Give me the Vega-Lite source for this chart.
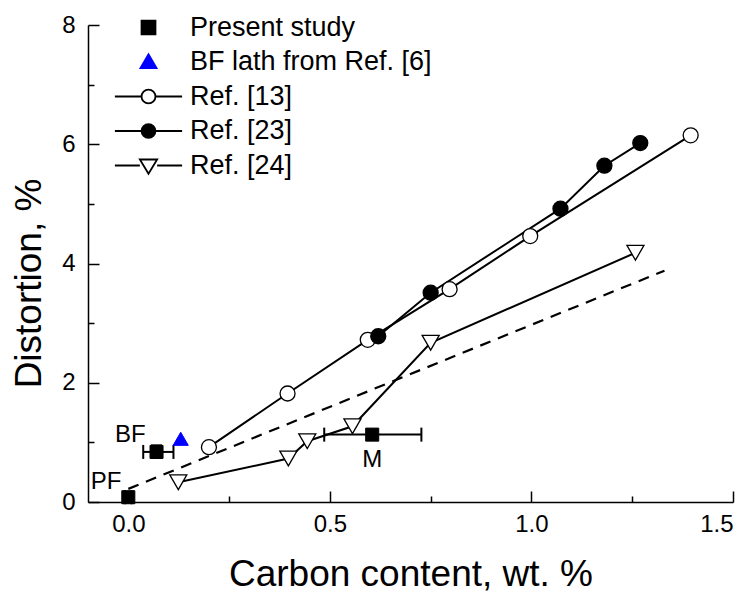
{
  "$schema": "https://vega.github.io/schema/vega-lite/v6.json",
  "width": 645,
  "height": 477,
  "autosize": {"type": "none"},
  "padding": {"left": 88, "top": 25, "right": 18, "bottom": 93},
  "config": {
    "view": {"stroke": null},
    "font": "Liberation Sans",
    "axis": {
      "domainColor": "black",
      "domainWidth": 1.5,
      "tickColor": "black",
      "tickWidth": 1.5,
      "grid": false,
      "labelColor": "black",
      "labelFont": "Liberation Sans",
      "labelFontSize": 24,
      "titleFont": "Liberation Sans",
      "titleFontSize": 37,
      "titleFontWeight": "normal",
      "titleColor": "black"
    }
  },
  "datasets": {
    "pts": [
      {"series": "Present study", "x": 0.0, "y": 0.08},
      {"series": "Present study", "x": 0.07, "y": 0.84},
      {"series": "Present study", "x": 0.605, "y": 1.13},
      {"series": "BF lath from Ref. [6]", "x": 0.13, "y": 1.06},
      {"series": "Ref. [13]", "x": 0.2, "y": 0.92},
      {"series": "Ref. [13]", "x": 0.395, "y": 1.82},
      {"series": "Ref. [13]", "x": 0.594, "y": 2.72},
      {"series": "Ref. [13]", "x": 0.797, "y": 3.57},
      {"series": "Ref. [13]", "x": 0.997, "y": 4.46},
      {"series": "Ref. [13]", "x": 1.395, "y": 6.15},
      {"series": "Ref. [23]", "x": 0.62, "y": 2.78},
      {"series": "Ref. [23]", "x": 0.75, "y": 3.51},
      {"series": "Ref. [23]", "x": 1.072, "y": 4.92},
      {"series": "Ref. [23]", "x": 1.181, "y": 5.64},
      {"series": "Ref. [23]", "x": 1.27, "y": 6.02},
      {"series": "Ref. [24]", "x": 0.124, "y": 0.33},
      {"series": "Ref. [24]", "x": 0.397, "y": 0.73},
      {"series": "Ref. [24]", "x": 0.444, "y": 1.02},
      {"series": "Ref. [24]", "x": 0.556, "y": 1.27},
      {"series": "Ref. [24]", "x": 0.75, "y": 2.67},
      {"series": "Ref. [24]", "x": 1.258, "y": 4.18}
    ],
    "err": [
      {"x": 0.0, "y": 0.08, "xmin": -0.008, "xmax": 0.008, "ymin": 0.0, "ymax": 0.17},
      {"x": 0.07, "y": 0.84, "xmin": 0.037, "xmax": 0.112, "ymin": 0.74, "ymax": 0.95},
      {"x": 0.605, "y": 1.13, "xmin": 0.486, "xmax": 0.727, "ymin": 1.13, "ymax": 1.13}
    ],
    "fit": [
      {"x": 0.0, "y": 0.22},
      {"x": 1.33, "y": 3.88}
    ],
    "labels": [
      {"x": 0.005, "y": 1.12, "text": "BF"},
      {"x": -0.055, "y": 0.34, "text": "PF"},
      {"x": 0.605, "y": 0.7, "text": "M"}
    ]
  },
  "layer": [
    {
      "data": {"name": "fit"},
      "mark": {"type": "line", "color": "black", "strokeWidth": 2.2, "strokeDash": [11, 8]},
      "encoding": {
        "x": {
          "field": "x", "type": "quantitative",
          "scale": {"domain": [-0.1, 1.5], "nice": false, "zero": false},
          "axis": {
            "title": "Carbon content, wt. %",
            "orient": "bottom",
            "values": [0, 0.5, 1, 1.5],
            "format": ".1f",
            "tickSize": -11,
            "labelPadding": 21,
            "titlePadding": 20
          }
        },
        "y": {
          "field": "y", "type": "quantitative",
          "scale": {"domain": [0, 8], "nice": false, "zero": false},
          "axis": {
            "title": "Distortion, %",
            "orient": "left",
            "values": [0, 2, 4, 6, 8],
            "format": "d",
            "tickSize": -11,
            "labelPadding": 24,
            "titlePadding": 13,
            "titleY": 258
          }
        }
      }
    },
    {
      "data": {"name": "pts"},
      "transform": [{"filter": "indexof(datum.series, 'Ref.') === 0"}],
      "mark": {"type": "line", "color": "black", "strokeWidth": 2},
      "encoding": {
        "x": {
          "field": "x", "type": "quantitative",
          "axis": {"orient": "bottom", "values": [0.25, 0.75, 1.25], "tickSize": -6, "labels": false, "domain": false, "title": null}
        },
        "y": {
          "field": "y", "type": "quantitative",
          "axis": {"orient": "left", "values": [1, 3, 5, 7], "tickSize": -6, "labels": false, "domain": false, "title": null}
        },
        "detail": {"field": "series"}
      }
    },
    {
      "data": {"name": "err"},
      "mark": {"type": "rule", "color": "black", "strokeWidth": 2},
      "encoding": {
        "x": {"field": "xmin", "type": "quantitative", "axis": null},
        "x2": {"field": "xmax"},
        "y": {"field": "y", "type": "quantitative", "axis": null}
      }
    },
    {
      "data": {"name": "err"},
      "mark": {"type": "rule", "color": "black", "strokeWidth": 2},
      "encoding": {
        "x": {"field": "x", "type": "quantitative", "axis": null},
        "y": {"field": "ymin", "type": "quantitative", "axis": null},
        "y2": {"field": "ymax"}
      }
    },
    {
      "data": {"name": "err"},
      "mark": {"type": "tick", "orient": "vertical", "size": 14, "thickness": 2, "color": "black", "opacity": 1},
      "encoding": {
        "x": {"field": "xmin", "type": "quantitative", "axis": null},
        "y": {"field": "y", "type": "quantitative", "axis": null}
      }
    },
    {
      "data": {"name": "err"},
      "mark": {"type": "tick", "orient": "vertical", "size": 14, "thickness": 2, "color": "black", "opacity": 1},
      "encoding": {
        "x": {"field": "xmax", "type": "quantitative", "axis": null},
        "y": {"field": "y", "type": "quantitative", "axis": null}
      }
    },
    {
      "data": {"name": "err"},
      "mark": {"type": "tick", "orient": "horizontal", "size": 11, "thickness": 2, "color": "black", "opacity": 1},
      "encoding": {
        "x": {"field": "x", "type": "quantitative", "axis": null},
        "y": {"field": "ymin", "type": "quantitative", "axis": null}
      }
    },
    {
      "data": {"name": "err"},
      "mark": {"type": "tick", "orient": "horizontal", "size": 11, "thickness": 2, "color": "black", "opacity": 1},
      "encoding": {
        "x": {"field": "x", "type": "quantitative", "axis": null},
        "y": {"field": "ymax", "type": "quantitative", "axis": null}
      }
    },
    {
      "data": {"name": "pts"},
      "transform": [{"filter": "datum.series === 'Present study'"}],
      "mark": {"type": "point", "shape": "square", "size": 170, "fill": "black", "stroke": "black", "strokeWidth": 1, "opacity": 1},
      "encoding": {
        "x": {"field": "x", "type": "quantitative", "axis": null},
        "y": {"field": "y", "type": "quantitative", "axis": null}
      }
    },
    {
      "data": {"name": "pts"},
      "transform": [{"filter": "datum.series === 'BF lath from Ref. [6]'"}],
      "mark": {"type": "point", "shape": "triangle-up", "size": 230, "fill": "#0000ff", "stroke": "#0000ff", "strokeWidth": 1, "opacity": 1},
      "encoding": {
        "x": {"field": "x", "type": "quantitative", "axis": null},
        "y": {"field": "y", "type": "quantitative", "axis": null}
      }
    },
    {
      "data": {"name": "pts"},
      "transform": [{"filter": "datum.series === 'Ref. [13]'"}],
      "mark": {"type": "point", "shape": "circle", "size": 225, "fill": "white", "stroke": "black", "strokeWidth": 1.3, "opacity": 1},
      "encoding": {
        "x": {"field": "x", "type": "quantitative", "axis": null},
        "y": {"field": "y", "type": "quantitative", "axis": null}
      }
    },
    {
      "data": {"name": "pts"},
      "transform": [{"filter": "datum.series === 'Ref. [23]'"}],
      "mark": {"type": "point", "shape": "circle", "size": 225, "fill": "black", "stroke": "black", "strokeWidth": 1.3, "opacity": 1},
      "encoding": {
        "x": {"field": "x", "type": "quantitative", "axis": null},
        "y": {"field": "y", "type": "quantitative", "axis": null}
      }
    },
    {
      "data": {"name": "pts"},
      "transform": [{"filter": "datum.series === 'Ref. [24]'"}],
      "mark": {"type": "point", "shape": "triangle-down", "size": 290, "fill": "white", "stroke": "black", "strokeWidth": 1.3, "opacity": 1},
      "encoding": {
        "x": {"field": "x", "type": "quantitative", "axis": null},
        "y": {"field": "y", "type": "quantitative", "axis": null}
      }
    },
    {
      "data": {"name": "pts"},
      "mark": {"type": "point", "filled": true, "fill": "white", "opacity": 0},
      "encoding": {
        "x": {"field": "x", "type": "quantitative", "axis": null},
        "y": {"field": "y", "type": "quantitative", "axis": null},
        "shape": {
          "field": "series", "type": "nominal", "title": null,
          "scale": {
            "domain": ["Present study", "BF lath from Ref. [6]", "Ref. [13]", "Ref. [23]", "Ref. [24]"],
            "range": [
              "M-0.58,-0.58H0.58V0.58H-0.58ZM-0.58,-0.464H0.58M-0.58,-0.348H0.58M-0.58,-0.232H0.58M-0.58,-0.116H0.58M-0.58,0H0.58M-0.58,0.116H0.58M-0.58,0.232H0.58M-0.58,0.348H0.58M-0.58,0.464H0.58",
              "M-0.67,0.5L0.67,0.5L0,-0.65ZM-0.602,0.384H0.602M-0.535,0.268H0.535M-0.467,0.152H0.467M-0.4,0.036H0.4M-0.332,-0.08H0.332M-0.265,-0.196H0.265M-0.197,-0.312H0.197M-0.129,-0.428H0.129M-0.062,-0.544H0.062",
              "M-2.8,0L-0.6,0M0.6,0L2.8,0M0.58,0A0.58,0.58,0,1,1,-0.58,0A0.58,0.58,0,1,1,0.58,0",
              "M-2.8,0L-0.6,0M0.6,0L2.8,0M0.58,0A0.58,0.58,0,1,1,-0.58,0A0.58,0.58,0,1,1,0.58,0M-0.58,0H0.58M-0.568,-0.116H0.568M-0.568,0.116H0.568M-0.532,-0.232H0.532M-0.532,0.232H0.532M-0.464,-0.348H0.464M-0.464,0.348H0.464M-0.348,-0.464H0.348M-0.348,0.464H0.348",
              "M-2.8,0L-0.72,0M0.72,0L2.8,0M-0.72,-0.5L0.72,-0.5L0,0.68Z"
            ]
          },
          "legend": {
            "title": null,
            "orient": "none",
            "legendX": 47,
            "legendY": -11,
            "padding": 0,
            "symbolSize": 576,
            "symbolStrokeWidth": 1.8,
            "symbolFillColor": "white",
            "labelFontSize": 27,
            "labelFont": "Liberation Sans",
            "labelColor": "black",
            "labelOffset": 28,
            "labelLimit": 400,
            "rowPadding": 6.5,
            "encode": {
              "symbols": {
                "update": {
                  "opacity": {"value": 1},
                  "strokeOpacity": {"value": 1}
                }
              }
            }
          }
        },
        "stroke": {
          "field": "series", "type": "nominal", "title": null,
          "scale": {
            "domain": ["Present study", "BF lath from Ref. [6]", "Ref. [13]", "Ref. [23]", "Ref. [24]"],
            "range": ["black", "#0000ff", "black", "black", "black"]
          }
        }
      }
    },
    {
      "data": {"name": "labels"},
      "mark": {"type": "text", "fontSize": 24, "font": "Liberation Sans", "color": "black", "align": "center", "baseline": "middle"},
      "encoding": {
        "x": {"field": "x", "type": "quantitative", "axis": null},
        "y": {"field": "y", "type": "quantitative", "axis": null},
        "text": {"field": "text"}
      }
    }
  ],
  "resolve": {"axis": {"x": "independent", "y": "independent"}}
}
